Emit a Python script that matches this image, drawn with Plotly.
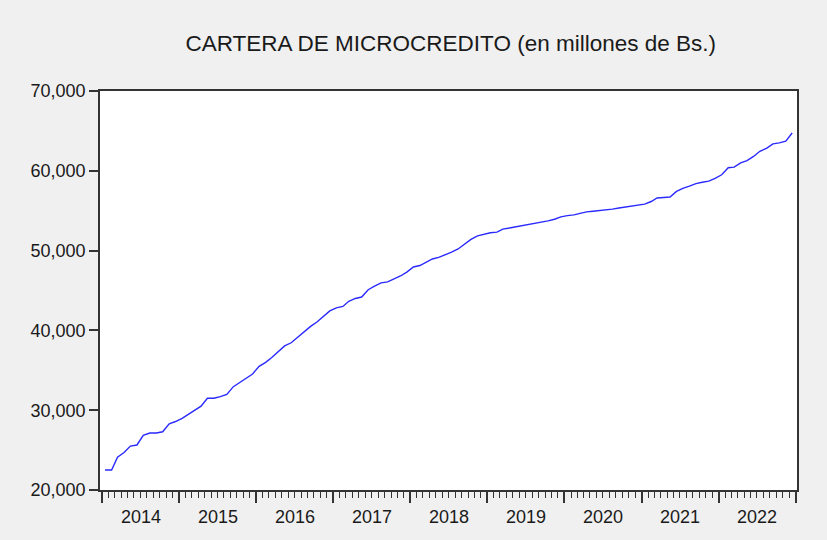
import pandas as pd
import plotly.graph_objects as go

# Cartera de microcredito, mensual ene-2014 .. dic-2022 (millones de Bs.)
cartera = [
    22500, 22500, 24100, 24700, 25500, 25640, 26850, 27140, 27140, 27300, 28300, 28580,  # 2014
    28980, 29500, 30000, 30500, 31500, 31500, 31700, 31980, 32950, 33500, 34050, 34540,  # 2015
    35500, 36000, 36600, 37300, 38050, 38450, 39130, 39850, 40500, 41050, 41800, 42450,  # 2016
    42820, 43000, 43650, 44000, 44180, 45100, 45550, 45950, 46080, 46450, 46820, 47300,  # 2017
    47950, 48130, 48500, 48950, 49150, 49470, 49800, 50200, 50850, 51400, 51850, 52080,  # 2018
    52240, 52310, 52700, 52830, 52980, 53100, 53190, 53360, 53580, 53720, 53930, 54230,  # 2019
    54390, 54480, 54660, 54850, 54930, 55010, 55070, 55200, 55340, 55480, 55610, 55700,  # 2020
    55830, 56150, 56590, 56650, 56710, 57420, 57800, 58080, 58400, 58560, 58700, 59040,  # 2021
    59500, 60380, 60460, 61000, 61270, 61800, 62450, 62810, 63370, 63500, 63720, 64730,  # 2022
]
years = ["2014", "2015", "2016", "2017", "2018", "2019", "2020", "2021", "2022"]
y_ticks = [20000, 30000, 40000, 50000, 60000, 70000]

FONT = "Liberation Sans, Arial, sans-serif"
TEXT_COLOR = "#1a1a1a"
FRAME = "#333333"

# cada observacion se dibuja a mitad de mes (como EViews)
fechas = pd.date_range("2014-01-01", periods=len(cartera), freq="MS") + pd.Timedelta(days=14)

fig = go.Figure()
fig.add_trace(
    go.Scatter(
        x=fechas,
        y=cartera,
        mode="lines",
        line=dict(color="#2a2aff", width=1.4),
        showlegend=False,
        hoverinfo="skip",
    )
)

# etiquetas de anio centradas en cada tramo anual
for yr in years:
    fig.add_annotation(
        x=f"{yr}-07-02",
        y=-0.068,
        xref="x",
        yref="paper",
        text=yr,
        showarrow=False,
        yanchor="middle",
        font=dict(family=FONT, size=18, color=TEXT_COLOR),
    )

fig.update_layout(
    width=827,
    height=540,
    paper_bgcolor="#f0f0f0",
    plot_bgcolor="#ffffff",
    margin=dict(l=100, r=30, t=91, b=50),
    title=dict(
        text="CARTERA DE MICROCREDITO (en millones de Bs.)",
        x=0.545,
        xanchor="center",
        y=0.92,
        yanchor="middle",
        font=dict(family=FONT, size=22.5, color=TEXT_COLOR),
    ),
)
fig.update_xaxes(
    type="date",
    range=["2013-12-22", "2023-01-07"],
    tickmode="linear",
    tick0="2014-01-01",
    dtick="M12",
    showticklabels=False,
    ticks="outside",
    ticklen=11,
    tickwidth=1.5,
    tickcolor=FRAME,
    minor=dict(tickmode="linear", tick0="2014-01-01", dtick="M1",
               ticks="outside", ticklen=6, tickwidth=1, tickcolor=FRAME, showgrid=False),
    showgrid=False,
    zeroline=False,
    showline=True,
    mirror=True,
    linecolor=FRAME,
    linewidth=1.5,
)
fig.update_yaxes(
    range=[20000, 70000],
    tickmode="array",
    tickvals=y_ticks,
    tickformat=",",
    ticks="outside",
    ticklen=9,
    tickwidth=1.5,
    tickcolor=FRAME,
    ticklabelstandoff=0,
    tickfont=dict(family=FONT, size=18, color=TEXT_COLOR),
    showgrid=False,
    zeroline=False,
    showline=True,
    mirror=True,
    linecolor=FRAME,
    linewidth=1.5,
)

# sin margen del <body>, para que la figura llene la ventana
fig.write_html(
    "out.html",
    config={"displayModeBar": False},
    post_script="document.body.style.margin='0';document.body.style.background='#f0f0f0';",
)
